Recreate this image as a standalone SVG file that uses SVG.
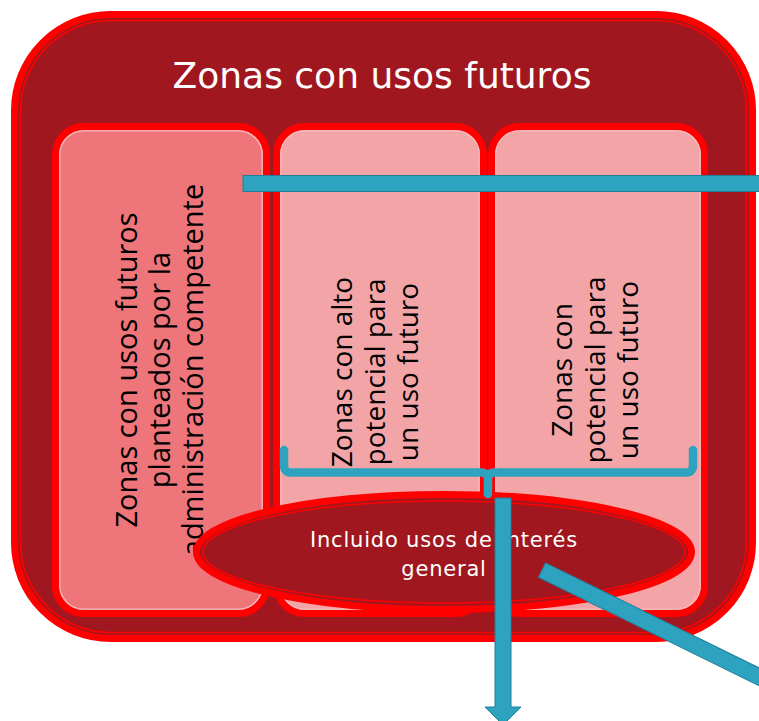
<svg xmlns="http://www.w3.org/2000/svg" width="759" height="721" viewBox="0 0 759 721">
<style>
.red{stroke:#FF0000;stroke-width:7}
.thin{fill:none;stroke:#FF0000;stroke-width:1.6}
.light{fill:none;stroke:#F7B9BC;stroke-width:1.3}
.dark{fill:#A1171F}
.vt{font-family:"Open Sans","DejaVu Sans",sans-serif;fill:#000;text-anchor:middle}
.conn{fill:#2EA3C0;stroke:#227F98;stroke-width:1}
</style>
<rect width="759" height="721" fill="#FFFFFF"/>
<g id="outer">
<rect x="14.5" y="14.5" width="738" height="624" rx="96" class="dark red"/>
<rect x="20.5" y="20.5" width="726" height="612" rx="90" class="thin"/>
<text x="382" y="88" font-family="DejaVu Sans, sans-serif" font-size="36" fill="#FFFFFF" text-anchor="middle">Zonas con usos futuros</text>
</g>
<g id="box1">
<rect x="55.5" y="126.5" width="211" height="487" rx="28" fill="#EE757A" class="red"/>
<rect x="59.8" y="130.8" width="202.4" height="478.4" rx="24" class="light"/>
<text class="vt" font-size="29" transform="translate(137,370) rotate(-90)"><tspan x="0" y="0">Zonas con usos futuros</tspan><tspan x="0" y="33">planteados por la</tspan><tspan x="0" y="66">administración competente</tspan></text>
</g>
<g id="box2">
<rect x="276.5" y="126.5" width="207" height="487" rx="28" fill="#F2A4A7" class="red"/>
<rect x="280.8" y="130.8" width="198.4" height="478.4" rx="24" class="light"/>
<text class="vt" font-size="28" transform="translate(352,372) rotate(-90)"><tspan x="0" y="0">Zonas con alto</tspan><tspan x="0" y="33">potencial para</tspan><tspan x="0" y="66">un uso futuro</tspan></text>
</g>
<g id="box3">
<rect x="491.5" y="126.5" width="213" height="487" rx="28" fill="#F2A4A7" class="red"/>
<rect x="495.8" y="130.8" width="204.4" height="478.4" rx="24" class="light"/>
<text class="vt" font-size="28" transform="translate(572,370) rotate(-90)"><tspan x="0" y="0">Zonas con</tspan><tspan x="0" y="33">potencial para</tspan><tspan x="0" y="66">un uso futuro</tspan></text>
</g>
<g id="ellipse">
<ellipse cx="444" cy="552" rx="247.5" ry="57.5" class="dark red"/>
<ellipse cx="444" cy="552" rx="241" ry="51" class="thin"/>
<text x="444" y="547" font-family="DejaVu Sans, sans-serif" font-size="21" letter-spacing="0.8" fill="#FFFFFF" text-anchor="middle">Incluido usos de interés</text>
<text x="444" y="576" font-family="DejaVu Sans, sans-serif" font-size="21" letter-spacing="0.8" fill="#FFFFFF" text-anchor="middle">general</text>
</g>
<g id="connectors">
<rect x="243" y="175.5" width="530" height="16" class="conn"/>
<path d="M284,450 V465 Q284,472.5 291,472.5 H481 Q488,472.5 488,480 V494 M488,480 Q488,472.5 495,472.5 H686 Q693,472.5 693,465 V450" fill="none" stroke="#2EA3C0" stroke-width="8.5" stroke-linecap="round" stroke-linejoin="round"/>
<polygon points="495,498 511,498 511,707 521,707 503,725 485,707 495,707" class="conn"/>
<rect x="542" y="562" width="280" height="16" class="conn" transform="rotate(26.2 542 570)"/>
</g>
</svg>
